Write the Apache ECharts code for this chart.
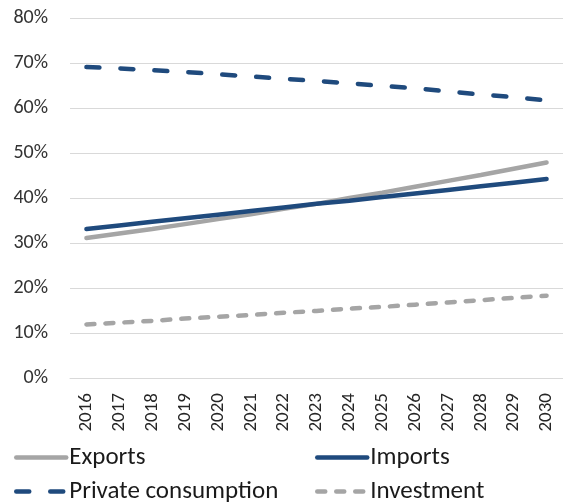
<!DOCTYPE html>
<html>
<head>
<meta charset="utf-8">
<script src="https://cdn.jsdelivr.net/npm/echarts@6/dist/echarts.min.js"></script>
<style>
  html, body { margin: 0; padding: 0; background: #fff; }
  #chart { width: 563px; height: 503px; }
</style>
</head>
<body>
<div id="chart"></div>
<script>
const years = ['2016', '2017', '2018', '2019', '2020', '2021', '2022', '2023',
  '2024', '2025', '2026', '2027', '2028', '2029', '2030']

// shares in %
const exportsData = [31.1, 32.1, 33.1, 34.2, 35.3, 36.4, 37.6, 38.7, 40.0, 41.2, 42.5, 43.8, 45.1, 46.5, 47.9]
const importsData = [33.1, 33.9, 34.7, 35.5, 36.3, 37.1, 37.9, 38.7, 39.4, 40.2, 41.0, 41.8, 42.6, 43.4, 44.2]
const privateData = [69.1, 68.8, 68.4, 68.0, 67.5, 67.0, 66.5, 66.0, 65.5, 64.9, 64.4, 63.7, 63.0, 62.4, 61.7]
const investData = [11.9, 12.3, 12.7, 13.2, 13.6, 14.0, 14.5, 14.9, 15.4, 15.8, 16.3, 16.8, 17.3, 17.8, 18.3]

const navy = '#1F4A7D'
const grey = '#A5A5A5'
const font = 'Carlito, Lato, "Liberation Sans", sans-serif'

const chart = echarts.init(document.getElementById('chart'))

function legendAt(name, left, top) {
  return {
    data: [name],
    left: left,
    top: top,
    padding: 0,
    itemWidth: 50,
    itemHeight: 14,
    itemGap: 0,
    itemStyle: { opacity: 0 },
    lineStyle: { width: 4.5, cap: 'round' },
    textStyle: { fontFamily: font, fontSize: 25, color: '#1a1a1a', padding: [0, 0, 0, -2] }
  }
}

function lineSeries(name, data, color, dash) {
  return {
    name: name,
    type: 'line',
    data: data,
    symbol: 'none',
    showSymbol: false,
    animation: false,
    lineStyle: { color: color, width: 4.5, type: dash, cap: 'round' },
    itemStyle: { color: color }
  }
}

chart.setOption({
  grid: { left: 70, right: 0, top: 18, bottom: 125 },
  legend: [
    legendAt('Exports', 14, 445),
    legendAt('Imports', 315, 445),
    legendAt('Private consumption', 14, 479),
    legendAt('Investment', 315, 479)
  ],
  xAxis: {
    type: 'category',
    data: years,
    boundaryGap: true,
    axisLine: { lineStyle: { color: '#D9D9D9', width: 1 } },
    axisTick: { show: false },
    axisLabel: {
      rotate: 90,
      margin: 15,
      interval: 0,
      fontFamily: font,
      fontSize: 19,
      color: '#262626'
    }
  },
  yAxis: {
    type: 'value',
    min: 0,
    max: 80,
    interval: 10,
    axisLine: { show: false },
    axisTick: { show: false },
    splitLine: { lineStyle: { color: '#D9D9D9', width: 1 } },
    axisLabel: {
      margin: 22,
      fontFamily: font,
      fontSize: 20,
      color: '#333',
      formatter: '{value}%'
    }
  },
  series: [
    lineSeries('Exports', exportsData, grey, 'solid'),
    lineSeries('Imports', importsData, navy, 'solid'),
    lineSeries('Private consumption', privateData, navy, [13, 21]),
    lineSeries('Investment', investData, grey, [8, 11])
  ]
})
</script>
</body>
</html>
